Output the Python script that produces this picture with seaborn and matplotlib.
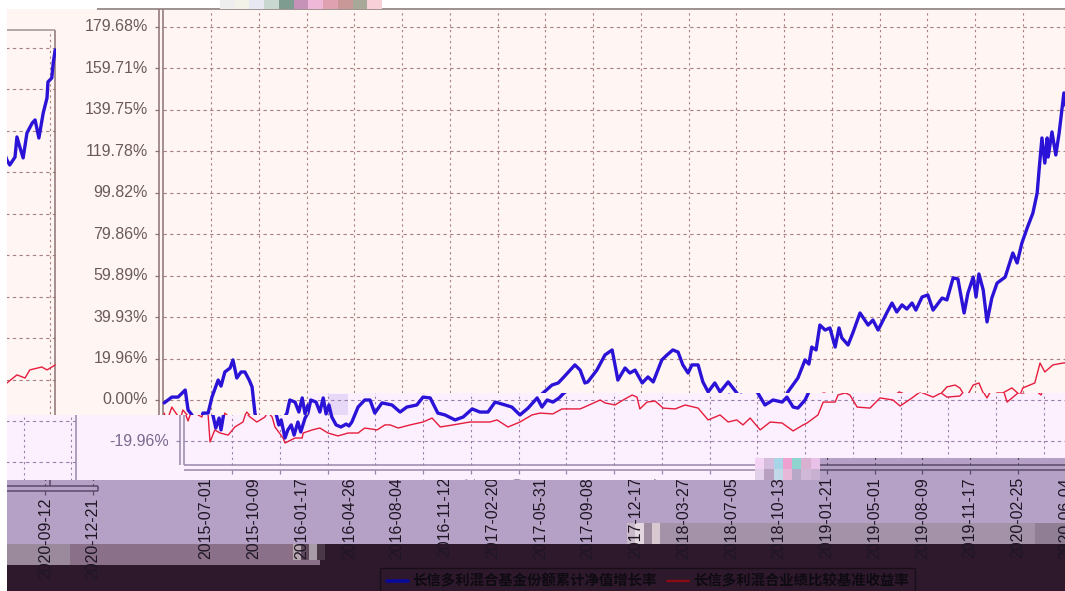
import pandas as pd
import matplotlib
matplotlib.use("Agg")
import matplotlib.pyplot as plt
import matplotlib.dates as mdates
from matplotlib.lines import Line2D
from matplotlib.patches import Rectangle
import seaborn as sns

# Chart values (days are counted from 2015-07-01)
blue_days = [-98, -82, -69, -54, -48, -40, -34, -27, -23, -17, -6, 2, 15, 21, 29, 40, 46, 54, 63, 71, 80, 86, 92, 98,
             103, 111, 117, 124, 130, 138, 144, 153, 159, 165, 176, 184, 191, 197, 203, 209, 218, 228, 239, 245, 251,
             264, 278, 289, 299, 314, 335, 352, 366, 387, 400, 415, 431, 446, 467, 484, 503, 519, 536, 551, 572, 586,
             603, 620, 639, 649, 660, 672, 685, 693, 714, 727, 737, 762, 773, 783, 789, 808, 825, 840, 852, 867, 877,
             888, 903, 915, 926, 944, 955, 967, 978, 988, 999, 1007, 1020, 1030, 1041, 1055, 1066, 1083, 1101, 1116,
             1133, 1152, 1162, 1175, 1185, 1200, 1208, 1229, 1244, 1252, 1258, 1267, 1275, 1286, 1296, 1307, 1315,
             1321, 1334, 1344, 1359, 1376, 1386, 1397, 1416, 1426, 1436, 1447, 1457, 1468, 1476, 1489, 1501, 1512,
             1531, 1541, 1554, 1564, 1577, 1585, 1596, 1602, 1608, 1617, 1625, 1635, 1646, 1663, 1679, 1688, 1698,
             1709, 1721, 1730, 1734, 1740, 1746, 1751, 1753, 1761, 1769, 1776, 1786, 1795, 1809, 1815, 1826, 1830,
             1836, 1843, 1851, 1862, 1868, 1876, 1885, 1893, 1895, 1903, 1906, 1910]
blue_values = [-1.4, 1.4, 1.4, 4.8, -4.8, -7.2, -13.5, -8.7, -14.4, -6.3, -6.3, 1.4, 9.6, 6.7, 13.5, 15.4, 19.3, 10.6,
               13.5, 13.5, 9.6, 6.3, -6.3, -12, -9.6, -18.3, -14.4, -12, -16.9, -10.6, -15.4, -8.7, -6.3, 0, -1, -5.8,
               1, -6.7, -2.4, -8.2, -12, -13, -11.6, -12.5, -10.6, -3.4, 0, 0, -6.3, -1.4, -2.4, -5.8, -3.4, -2.4, 1.4,
               1, -6.3, -7.2, -9.6, -8.2, -4.3, -5.8, -5.8, -1, -2.4, -3.4, -7.2, -3.9, 1, -3.4, 0, -1, 1, 2.9, 7.2,
               8.2, 10.6, 16.9, 14.4, 8.2, 8.7, 14.4, 21.7, 24.1, 9.6, 15.4, 13, 14.4, 8.2, 11.1, 8.7, 19.3, 21.7,
               24.1, 23.1, 16.9, 13, 16.9, 16.9, 8.7, 3.9, 8.2, 3.9, 8.7, 3.4, -2.4, 0, -1, 1.4, -3.4, -3.9, 0, 3.9,
               10.6, 19.3, 17.3, 25.5, 24.1, 36.1, 33.7, 34.7, 25.5, 34.7, 29.9, 26.5, 32.3, 41.9, 36.1, 38.5, 33.7,
               42.4, 46.7, 42.4, 45.8, 43.8, 46.7, 43.3, 49.6, 50.6, 43.3, 49.1, 48.2, 58.8, 58.3, 41.9, 51.5, 59.2,
               49.6, 60.7, 53, 37.6, 49.1, 56.3, 59.2, 70.8, 66, 75.6, 82.8, 90, 99.7, 110.8, 126.2, 114.1, 126.2,
               117, 129.1, 118, 128.6, 147.9, 134.8, 125.7, 123.3, 127.1, 136.8, 132, 126.7, 138.7, 143.5, 145, 136.3,
               148.3, 155.6, 163.3, 165.2, 172.4, 178.7]
red_days = [-98, -92, -82, -71, -63, -59, -50, -46, -36, -25, -8, 6, 23, 29, 38, 52, 69, 75, 84, 90, 107, 111, 132, 147,
            149, 168, 184, 201, 222, 243, 264, 278, 304, 320, 331, 348, 373, 400, 419, 436, 463, 498, 540, 555, 578,
            603, 628, 645, 672, 691, 729, 743, 771, 781, 802, 819, 838, 848, 854, 869, 886, 903, 928, 949, 976, 997,
            1022, 1039, 1057, 1070, 1085, 1106, 1127, 1152, 1175, 1196, 1204, 1227, 1238, 1242, 1263, 1269, 1284, 1294,
            1309, 1336, 1357, 1384, 1399, 1424, 1441, 1468, 1485, 1497, 1524, 1541, 1558, 1568, 1581, 1596, 1608, 1617,
            1623, 1646, 1658, 1677, 1694, 1700, 1725, 1736, 1746, 1763, 1784, 1809, 1830, 1847, 1857, 1882, 1893, 1910]
red_values = [-6.3, -10.1, -3.4, -7.2, -8.2, -4.8, -7.2, -20.2, -14.4, -15.9, -16.9, -13, -10.6, -6.3, -8.2, -10.6,
              -8.2, -5.8, -8.2, -13, -18.3, -20.7, -18.3, -18.3, -15.9, -14.4, -13.5, -15.9, -17.3, -15.9, -15.9,
              -13.5, -14.4, -12, -12, -13.5, -12, -10.6, -8.7, -13, -12, -10.6, -10.6, -9.6, -13, -10.6, -7.2, -6.3,
              -6.7, -4.3, -4.3, -2.9, 0, -1.4, -2.4, 0, 2.4, 1.4, -4.3, -1, -0.5, -3.9, -4.3, -2.4, -3.9, -9.6, -7.2,
              -10.6, -9.6, -12, -8.7, -14.4, -10.6, -11.1, -14.9, -12, -11.1, -7.2, -1, -1, -1, 2.4, 3.4, 2.4, -3.4,
              -3.9, 1, 0, -2.9, 1, 3.9, 1.4, 3.4, 1.4, 1.9, 6.3, 7.2, 5.8, 1, 7.2, 8.2, 3.4, -1, 3.4, 3.4, 5.8, 2.4,
              5.8, 8.2, 17.8, 13.5, 16.9, 17.8, 18.3, 22.2, 20.7, 24.6, 26, 24.6, 27]
y_ticks = [179.68, 159.71, 139.75, 119.78, 99.82, 79.86, 59.89, 39.93, 19.96, 0.00, -19.96]
x_ticks = ["2015-07-01", "2015-10-09", "2016-01-17", "2016-04-26", "2016-08-04", "2016-11-12", "2017-02-20",
           "2017-05-31", "2017-09-08", "2017-12-17", "2018-03-27", "2018-07-05", "2018-10-13", "2019-01-21",
           "2019-05-01", "2019-08-09", "2019-11-17", "2020-02-25", "2020-06-04", "2020-09-12", "2020-12-21"]
blue_name = "长信多利混合基金份额累计净值增长率"
red_name = "长信多利混合业绩比较基准收益率"

W, H = 1065, 591
BLUE = "#2A12D6"
RED = "#E61C3C"
PINK = "#FFF5F3"
LAV = "#FCF0FF"
PURPLE = "#B6A1C6"
DARK = "#2E192C"

sns.set_theme(style="white")
plt.rcParams["font.family"] = ["Liberation Sans", "DejaVu Sans"]

start = pd.Timestamp("2015-07-01")
blue = pd.DataFrame({"date": start + pd.to_timedelta(blue_days, unit="D"), "value": blue_values})
red = pd.DataFrame({"date": start + pd.to_timedelta(red_days, unit="D"), "value": red_values})
tick_dates = pd.to_datetime(x_ticks)

fig = plt.figure(figsize=(W / 100, H / 100), dpi=100)

# The picture is cut into shifted bands, so the backdrop comes first
back = fig.add_axes([0, 0, 1, 1])
back.set_xlim(0, W)
back.set_ylim(H, 0)
back.axis("off")


def block(x0, y0, x1, y1, color):
    back.add_patch(Rectangle((x0, y0), x1 - x0, y1 - y0, color=color, lw=0))


def noise(x0, y0, x1, y1, colors):
    step = (x1 - x0) / len(colors)
    for n, c in enumerate(colors):
        block(x0 + n * step, y0, x0 + (n + 1) * step, y1, c)


block(7, 9, W, 415, PINK)
block(7, 415, W, 480, LAV)
block(308, 393, W, 415, LAV)
block(328, 394, 348, 415, "#E6D8F6")
block(7, 480, W, H, PURPLE)
block(820, 458, W, 480, PURPLE)
block(7, 544, 70, 565, "#9A8A9C")
block(70, 544, 325, 565, "#8A7189")
block(627, 523, W, 544, "#A392A8")
block(1035, 523, W, 544, "#8F7E94")
block(320, 544, W, H, DARK)
block(7, 565, W, H, DARK)
block(97, 8, W, 9.5, "#A09492")
noise(220, 0, 382, 9, ["#EEEEEE", "#F2F2E8", "#E8E8F2", "#C8D8D0", "#7F9C90", "#C792B8", "#F0B8D8", "#DFA0B0",
                       "#C89898", "#A8A898", "#F8D0D8"])
noise(755, 458, 820, 469, ["#F4D4F4", "#D4BCDC", "#A8D4E8", "#F0A0D0", "#90D4D0", "#D8B0D0", "#E8C0E8"])
noise(755, 469, 820, 480, ["#E0D0E8", "#B8A0C0", "#C0D8E8", "#E8B8D8", "#B8A8C8", "#D0B8D8", "#C8B0D0"])
noise(285, 544, 325, 560, ["#8C7088", "#B8A8B0", "#5E4A5C", "#A89CA8", "#4A3848"])
noise(627, 523, 660, 544, ["#C8B8C8", "#E4D8E0", "#A08CA0", "#D8C8D0"])


def x_num(px):
    return mdates.date2num(start + pd.Timedelta(days=(px - 211) * 2.094))


def y_val(px):
    return (400 - px) * 0.4816


def panel(x0, y0, x1, y1, dx, dy, grid, text, frame):
    ax = fig.add_axes([x0 / W, 1 - y1 / H, (x1 - x0) / W, (y1 - y0) / H])
    ax.patch.set_visible(False)

    # frame, grid and ticks
    left, right, end = x_num(163), x_num(1123), x_num(1171)
    top, bottom, axis_y, tick_y = y_val(9), y_val(465), y_val(470), y_val(474)
    ax.hlines(y_ticks, left, right, colors=grid, linestyles=(0, (3, 3)), lw=0.8)
    ax.vlines(mdates.date2num(tick_dates), bottom, top, colors=grid, linestyles=(0, (2, 3)), lw=0.8)
    ax.vlines(mdates.date2num(tick_dates), axis_y, tick_y, colors=frame, lw=0.9)
    ax.hlines(y_ticks, x_num(155), x_num(159), colors=frame, lw=0.9)
    ax.vlines([x_num(159), left, right], bottom, top, colors=frame, lw=1.1)
    ax.hlines(bottom, left, right, colors=frame, lw=1.1)
    ax.hlines(top, left, right, colors="#A09492", lw=1.1)
    ax.hlines(bottom, right, end, colors=frame, lw=1.1)
    ax.hlines(axis_y, x_num(163), end, colors=frame, lw=1.1)
    ax.vlines(end, bottom, axis_y, colors=frame, lw=1.1)

    sns.lineplot(data=red, x="date", y="value", color=RED, lw=1.0, estimator=None, sort=False, errorbar=None, ax=ax)
    sns.lineplot(data=blue, x="date", y="value", color=BLUE, lw=2.4, estimator=None, sort=False, errorbar=None, ax=ax)

    # only the texts that fall inside this band are drawn
    for v in y_ticks:
        px, py = 148 + dx, 400 - v / 0.4816 + dy
        if px > x0 and px - 63 < x1 and py + 8 > y0 and py - 8 < y1:
            ax.text(x_num(148), v, f"{v:.2f}%", ha="right", va="center", fontsize=11.5, color=text, clip_on=True)
    for d, label, n in zip(tick_dates, x_ticks, range(len(x_ticks))):
        px = 211 + 47.75 * n + dx
        if px + 8 > x0 and px - 8 < x1 and 477 + dy < y1 and 561 + dy > y0:
            ax.text(d, y_val(477), label, rotation=90, ha="center", va="top", fontsize=11.5, color=text, clip_on=True)

    ax.set_xlim(x_num(x0 - dx), x_num(x1 - dx))
    ax.set_ylim(y_val(y1 - dy), y_val(y0 - dy))
    ax.axis("off")


UP = ("#A88080", "#6B5A58", "#8C7272")
MID = ("#9A7EA8", "#7A6A8E", "#9A86AA")
LOW = ("#4A3A58", "#1E1624", "#5A4A68")

panel(56, 9, W, 393, 0, 0, *UP)
panel(56, 393, 308, 415, 0, 0, *UP)
panel(7, 9, 56, 415, -1068, 21, *UP)
panel(97, 415, 755, 480, 21, 0, *MID)
panel(308, 393, 755, 415, 21, 0, *MID)
panel(755, 393, W, 458, 21, 0, *MID)
panel(7, 415, 97, 480, -1047, 21, *MID)
panel(7, 480, 100, H, -1073, 21, *LOW)
panel(100, 480, W, H, -5, 0, *LOW)
panel(820, 458, W, 480, -5, 0, *LOW)

handles = [Line2D([], [], color="#0A0A9A", lw=2.6), Line2D([], [], color="#8C0A14", lw=1.6)]
leg = fig.legend(handles, [blue_name, red_name], loc="upper left", bbox_to_anchor=(380 / W, 1 - 568 / H), ncol=2,
                 frameon=True, fancybox=False, facecolor="none", edgecolor="#140A14", framealpha=None,
                 handlelength=1.5, handletextpad=0.3, columnspacing=0.7, borderpad=0.45, borderaxespad=0,
                 prop={"family": ["Noto Sans CJK SC", "DejaVu Sans"], "weight": "bold", "size": 10.4})
for t in leg.get_texts():
    t.set_color("#0E0A12")

fig.savefig("out.png", dpi=100)
